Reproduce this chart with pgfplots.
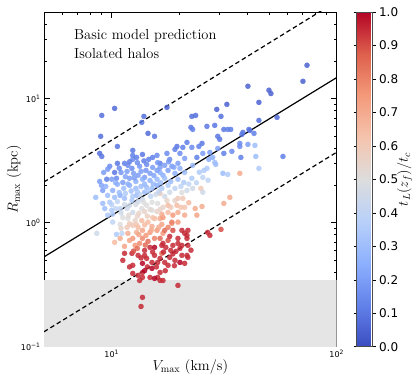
\documentclass[border=0pt]{standalone}
\usepackage{fontspec}
\newfontfamily\dejavu{DejaVu Sans}
\usepackage{pgfplots}
\pgfplotsset{compat=1.18}
\usepackage{pgfplotstable}

\pgfplotsset{colormap={coolwarm}{rgb255=(59,76,192) rgb255=(98,130,234) rgb255=(141,176,254)
  rgb255=(184,208,249) rgb255=(221,221,221) rgb255=(245,196,173) rgb255=(244,154,123)
  rgb255=(222,96,77) rgb255=(180,4,38)}}

% Vmax (km/s), Rmax (kpc), tL(zf)/tc
\pgfplotstableread{
V R t
9.03 7.33 0.08
10.3 8.35 0.07
13.9 7.20 0.08
13.6 6.44 0.10
17.6 8.51 0.05
8.93 4.97 0.08
14.5 5.25 0.07
15.5 4.97 0.10
10.6 4.12 0.10
8.84 3.62 0.08
9.03 3.42 0.10
12.4 3.83 0.10
12.4 3.49 0.12
13.7 3.55 0.10
15.2 3.36 0.12
16.4 3.01 0.12
10.6 3.01 0.10
11.4 3.01 0.12
12.4 3.24 0.15
32.5 9.00 0.05
29.3 8.20 0.05
22.7 7.20 0.08
23.6 7.33 0.08
30.6 7.20 0.08
26.5 5.98 0.10
28.7 6.09 0.10
22.5 5.87 0.10
22.9 5.65 0.12
31.5 5.65 0.10
32.8 5.65 0.12
33.8 5.65 0.12
29.6 4.97 0.10
30.2 4.70 0.10
41.1 5.55 0.08
38.3 5.35 0.10
37.9 5.15 0.10
40.3 12.6 0.05
50.0 11.7 0.05
51.0 11.0 0.05
45.1 9.34 0.05
54.3 7.07 0.07
45.1 6.68 0.08
73.8 18.6 0.05
70.8 13.8 0.05
40.7 5.65 0.10
42.9 5.25 0.12
37.1 4.12 0.15
40.3 4.28 0.20
34.2 3.76 0.15
43.7 3.42 0.30
57.7 3.42 0.12
37.5 3.36 0.12
45.1 2.74 0.35
21.6 4.44 0.12
25.2 4.36 0.10
24.4 4.12 0.12
19.5 4.12 0.10
19.1 3.90 0.12
20.7 4.05 0.12
22.7 4.05 0.15
27.3 3.69 0.20
29.6 3.97 0.20
31.5 3.62 0.12
37.1 4.36 0.15
43.3 4.20 0.30
37.1 2.50 0.70
32.8 2.45 0.35
31.2 2.50 0.30
26.5 2.74 0.35
25.4 2.32 0.40
22.7 2.28 0.35
17.6 3.62 0.15
18.1 3.24 0.15
20.1 3.62 0.15
21.1 3.30 0.20
19.7 3.01 0.20
17.2 2.90 0.20
16.4 2.54 0.25
17.8 2.64 0.20
20.1 2.74 0.25
22.9 2.90 0.30
23.9 3.36 0.12
25.4 3.62 0.20
28.1 3.36 0.25
28.7 3.06 0.30
27.0 3.24 0.25
29.0 2.95 0.30
25.7 2.64 0.35
9.50 2.24 0.12
10.3 2.54 0.10
10.5 2.28 0.15
12.9 3.36 0.12
14.6 3.24 0.12
15.9 3.49 0.15
12.3 2.74 0.15
13.1 2.41 0.20
14.0 2.32 0.20
14.8 2.50 0.20
15.9 2.64 0.20
16.4 2.79 0.20
11.2 2.11 0.20
12.0 2.28 0.20
10.6 2.04 0.25
10.1 1.82 0.25
10.3 1.60 0.30
9.12 1.43 0.30
9.12 1.82 0.20
8.49 1.60 0.30
9.31 1.30 0.30
10.0 1.26 0.35
10.1 1.17 0.35
9.59 1.15 0.35
10.1 1.01 0.40
8.58 0.820 0.45
10.5 0.805 0.35
11.1 0.820 0.40
10.9 1.66 0.25
11.4 1.57 0.30
12.3 1.51 0.35
12.9 1.66 0.30
14.0 1.76 0.30
15.1 1.89 0.30
15.9 2.00 0.25
10.9 1.30 0.40
11.7 1.30 0.45
12.4 1.21 0.45
13.6 1.30 0.50
14.3 1.38 0.50
15.1 1.26 0.50
16.0 1.43 0.50
16.9 1.33 0.55
11.2 1.10 0.50
11.8 1.08 0.50
12.7 1.04 0.55
11.7 0.917 0.60
12.4 0.951 0.60
13.6 1.04 0.65
14.5 1.01 0.65
15.5 1.08 0.65
16.4 1.08 0.70
11.8 0.820 0.70
12.9 0.835 0.70
13.7 0.867 0.72
14.8 0.835 0.75
15.9 0.867 0.75
16.9 0.820 0.75
12.4 0.747 0.75
13.7 0.747 0.78
15.5 0.747 0.80
10.3 0.694 0.65
11.4 0.644 0.72
12.0 0.720 0.72
12.7 0.656 0.75
13.3 0.681 0.78
14.8 0.632 0.95
15.5 0.632 1.00
16.7 0.656 0.95
17.4 0.632 0.95
18.3 0.598 0.95
20.1 0.621 0.95
21.8 0.656 0.95
11.2 0.497 0.95
12.4 0.453 0.95
13.7 0.470 1.00
15.1 0.478 0.95
16.4 0.515 0.95
18.1 0.525 0.95
19.1 0.497 0.95
20.5 0.545 0.95
21.6 0.545 0.95
20.1 0.478 1.00
21.1 0.470 0.95
13.1 0.545 0.95
14.0 0.545 0.95
15.5 0.545 0.95
16.7 0.566 0.85
12.4 0.390 0.95
13.7 0.397 0.95
15.1 0.428 1.00
16.4 0.397 0.95
13.3 0.342 0.95
13.7 0.362 0.95
16.0 0.362 0.95
16.4 0.342 0.95
17.8 0.453 0.95
19.7 0.312 0.95
13.7 0.250 0.95
13.5 0.211 0.95
11.4 0.566 0.95
12.3 0.566 0.95
13.1 0.376 0.95
14.8 0.362 0.95
15.5 0.355 1.00
16.9 0.342 0.95
19.3 0.587 0.95
21.8 0.525 0.95
20.5 0.867 0.95
21.6 0.790 0.95
18.7 0.867 0.90
18.5 0.987 0.75
16.9 1.10 0.75
23.9 1.15 0.72
18.7 1.15 0.75
26.7 0.835 0.95
27.3 0.790 0.95
30.6 0.883 0.90
33.5 1.60 0.70
31.5 1.43 0.70
25.2 1.35 0.70
22.9 1.89 0.45
24.9 1.89 0.60
25.4 1.76 0.45
20.7 1.57 0.60
19.5 1.38 0.65
20.3 1.33 0.62
21.1 1.33 0.62
19.1 1.51 0.55
16.7 1.17 0.70
18.5 1.01 0.80
21.8 0.867 0.95
21.1 0.820 0.95
18.1 0.775 0.95
19.7 0.747 0.95
21.6 0.747 0.95
16.9 0.681 0.95
18.7 0.656 0.95
20.5 0.656 0.95
17.2 0.867 0.85
17.8 0.917 0.80
16.4 1.72 0.60
17.8 1.38 0.65
19.7 1.57 0.60
9.80 2.85 0.15
11.8 2.90 0.15
13.3 2.85 0.18
14.3 2.95 0.15
15.2 2.79 0.20
18.5 2.85 0.20
9.21 2.54 0.20
11.0 2.54 0.18
11.7 2.59 0.20
12.5 2.50 0.20
13.5 2.59 0.20
14.2 2.64 0.18
16.9 2.41 0.25
19.1 2.50 0.25
21.1 2.54 0.30
8.84 2.15 0.20
10.0 2.24 0.20
12.8 2.15 0.25
13.7 2.24 0.25
14.8 2.19 0.25
15.9 2.24 0.28
17.2 2.28 0.30
18.3 2.15 0.30
19.7 2.24 0.30
20.9 2.11 0.35
9.40 1.96 0.25
11.3 1.89 0.30
12.0 2.00 0.25
12.8 1.89 0.30
13.5 1.96 0.30
14.3 1.93 0.30
16.7 1.89 0.35
17.8 2.00 0.35
19.1 1.89 0.40
20.3 1.96 0.40
21.6 1.82 0.45
9.59 1.66 0.30
11.5 1.72 0.35
12.4 1.63 0.35
13.3 1.69 0.40
14.9 1.63 0.40
15.7 1.69 0.45
17.2 1.63 0.45
18.1 1.76 0.45
9.80 1.46 0.35
10.6 1.48 0.40
11.4 1.40 0.45
13.1 1.48 0.45
13.7 1.54 0.45
15.1 1.46 0.50
17.6 1.51 0.55
18.3 1.33 0.60
10.4 1.30 0.40
13.2 1.19 0.55
14.0 1.23 0.55
15.9 1.23 0.55
17.8 1.21 0.65
19.7 1.21 0.70
21.1 1.15 0.70
10.9 0.969 0.50
13.1 0.917 0.65
15.1 0.934 0.70
16.7 0.969 0.72
19.7 1.01 0.75
10.9 0.747 0.70
14.5 0.707 0.85
16.4 0.747 0.85
17.8 0.720 0.90
14.0 0.598 0.95
16.0 0.478 0.95
14.3 0.515 0.95
17.2 0.478 0.95
9.6 2.70 0.18
10.8 2.75 0.15
12.0 3.10 0.12
13.0 3.05 0.15
13.9 3.15 0.12
11.5 2.35 0.22
12.6 2.30 0.20
15.4 2.40 0.22
16.0 3.05 0.18
17.9 3.10 0.18
18.9 2.80 0.22
10.4 2.10 0.25
11.8 2.05 0.25
14.0 2.05 0.28
15.3 2.05 0.28
16.5 2.10 0.30
9.0 2.00 0.22
10.8 1.75 0.30
12.2 1.80 0.32
13.0 1.78 0.35
14.5 1.80 0.35
16.2 1.78 0.40
10.0 1.40 0.38
11.0 1.20 0.45
12.0 1.38 0.45
12.8 1.40 0.48
13.9 1.45 0.50
14.8 1.28 0.52
16.4 1.28 0.55
11.9 1.15 0.52
13.0 1.13 0.55
14.4 1.13 0.58
15.2 1.10 0.62
12.0 0.98 0.60
12.9 0.96 0.62
14.0 0.96 0.65
15.0 0.87 0.70
16.2 0.92 0.70
13.2 0.80 0.72
14.2 0.79 0.75
11.0 0.90 0.55
13.0 0.62 0.85
14.1 0.66 0.85
12.5 0.59 0.90
13.5 0.52 0.95
15.2 0.58 0.95
17.0 0.58 0.95
18.7 0.56 0.95
19.7 0.68 0.95
15.8 0.44 0.95
14.4 0.44 0.95
17.3 0.41 0.95
12.0 0.44 0.95
14.0 0.41 1.00
19.0 0.45 0.95
22.5 0.60 0.95
22.0 1.45 0.65
23.5 1.30 0.70
20.5 1.75 0.50
22.0 2.05 0.40
23.8 2.10 0.40
24.5 2.55 0.35
26.8 2.20 0.40
}\halos

\begin{document}
\begin{tikzpicture}
\useasboundingbox (-44pt,-35.3pt) rectangle (372pt,346.7pt);
\begin{axis}[
    width=292.7pt, height=334.7pt, scale only axis,
    xmode=log, ymode=log,
    xmin=5, xmax=100, ymin=0.1, ymax=50,
    xtick={10,100}, xticklabels={10\textsuperscript{1}, 10\textsuperscript{2}},
    ytick={0.1,1,10}, yticklabels={10\textsuperscript{−1}, 10\textsuperscript{0}, 10\textsuperscript{1}},
    minor xtick={6,7,8,9,20,30,40,50,60,70,80,90},
    minor ytick={0.2,0.3,0.4,0.5,0.6,0.7,0.8,0.9,2,3,4,5,6,7,8,9,20,30,40},
    tick align=inside, tick pos=both,
    major tick length=6pt, minor tick length=3pt,
    every tick/.style={black, line width=0.5pt},
    axis line style={line width=0.9pt},
    ticklabel style={font=\dejavu\fontsize{8}{9}\selectfont},
    xlabel={$V_{\max}$ (km/s)}, ylabel={$R_{\max}$ (kpc)},
    every axis x label/.style={at={(axis description cs:0.5,-0.06)}, anchor=center, font=\fontsize{14.5}{17}\selectfont},
    every axis y label/.style={at={(axis description cs:-0.1025,0.5)}, rotate=90, anchor=center, font=\fontsize{14.5}{17}\selectfont},
    colormap name=coolwarm,
    point meta min=0, point meta max=1,
    colorbar,
    colorbar style={
        at={(parent axis.north east)}, anchor=north west, xshift=11.3pt,
        width=16pt, height=334.7pt, scale only axis,
        ytick={0,0.1,0.2,0.3,0.4,0.5,0.6,0.7,0.8,0.9,1.0},
        tick align=outside, major tick length=3pt,
        axis line style={line width=0.8pt, black!70},
        yticklabel style={font=\dejavu\fontsize{12}{12}\selectfont, /pgf/number format/.cd, fixed, fixed zerofill, precision=1, assume math mode=true},
        ylabel={$t_L(z_f)/t_c$},
        every axis y label/.style={at={(axis description cs:3.0,0.5)}, rotate=90, anchor=center, font=\fontsize{14.5}{17}\selectfont},
    },
]
\addplot[draw=none, fill=gray!20, forget plot] coordinates {(5,0.1) (100,0.1) (100,0.345) (5,0.345)} -- cycle;
\addplot[scatter, only marks, scatter src=explicit, mark=*, mark size=2.6pt,
    scatter/use mapped color={draw=mapped color, fill=mapped color},
    mark options={fill opacity=0.85, draw opacity=0.6, line width=0.3pt}]
    table[x=V, y=R, meta=t] {\halos};
\addplot[black, line width=1.2pt, no marks] coordinates {(5,0.53) (100,14.8)};
\addplot[black, line width=1.2pt, no marks, dash pattern=on 4.5pt off 3pt] coordinates {(5,2.13) (100,61)};
\addplot[black, line width=1.2pt, no marks, dash pattern=on 4.5pt off 3pt] coordinates {(5,0.132) (100,3.7)};
\node[anchor=north west, inner sep=0pt, align=left, font=\fontsize{14.5}{19}\selectfont] at (axis description cs:0.1025,0.948) {Basic model prediction\\Isolated halos};
\end{axis}
\end{tikzpicture}
\end{document}
